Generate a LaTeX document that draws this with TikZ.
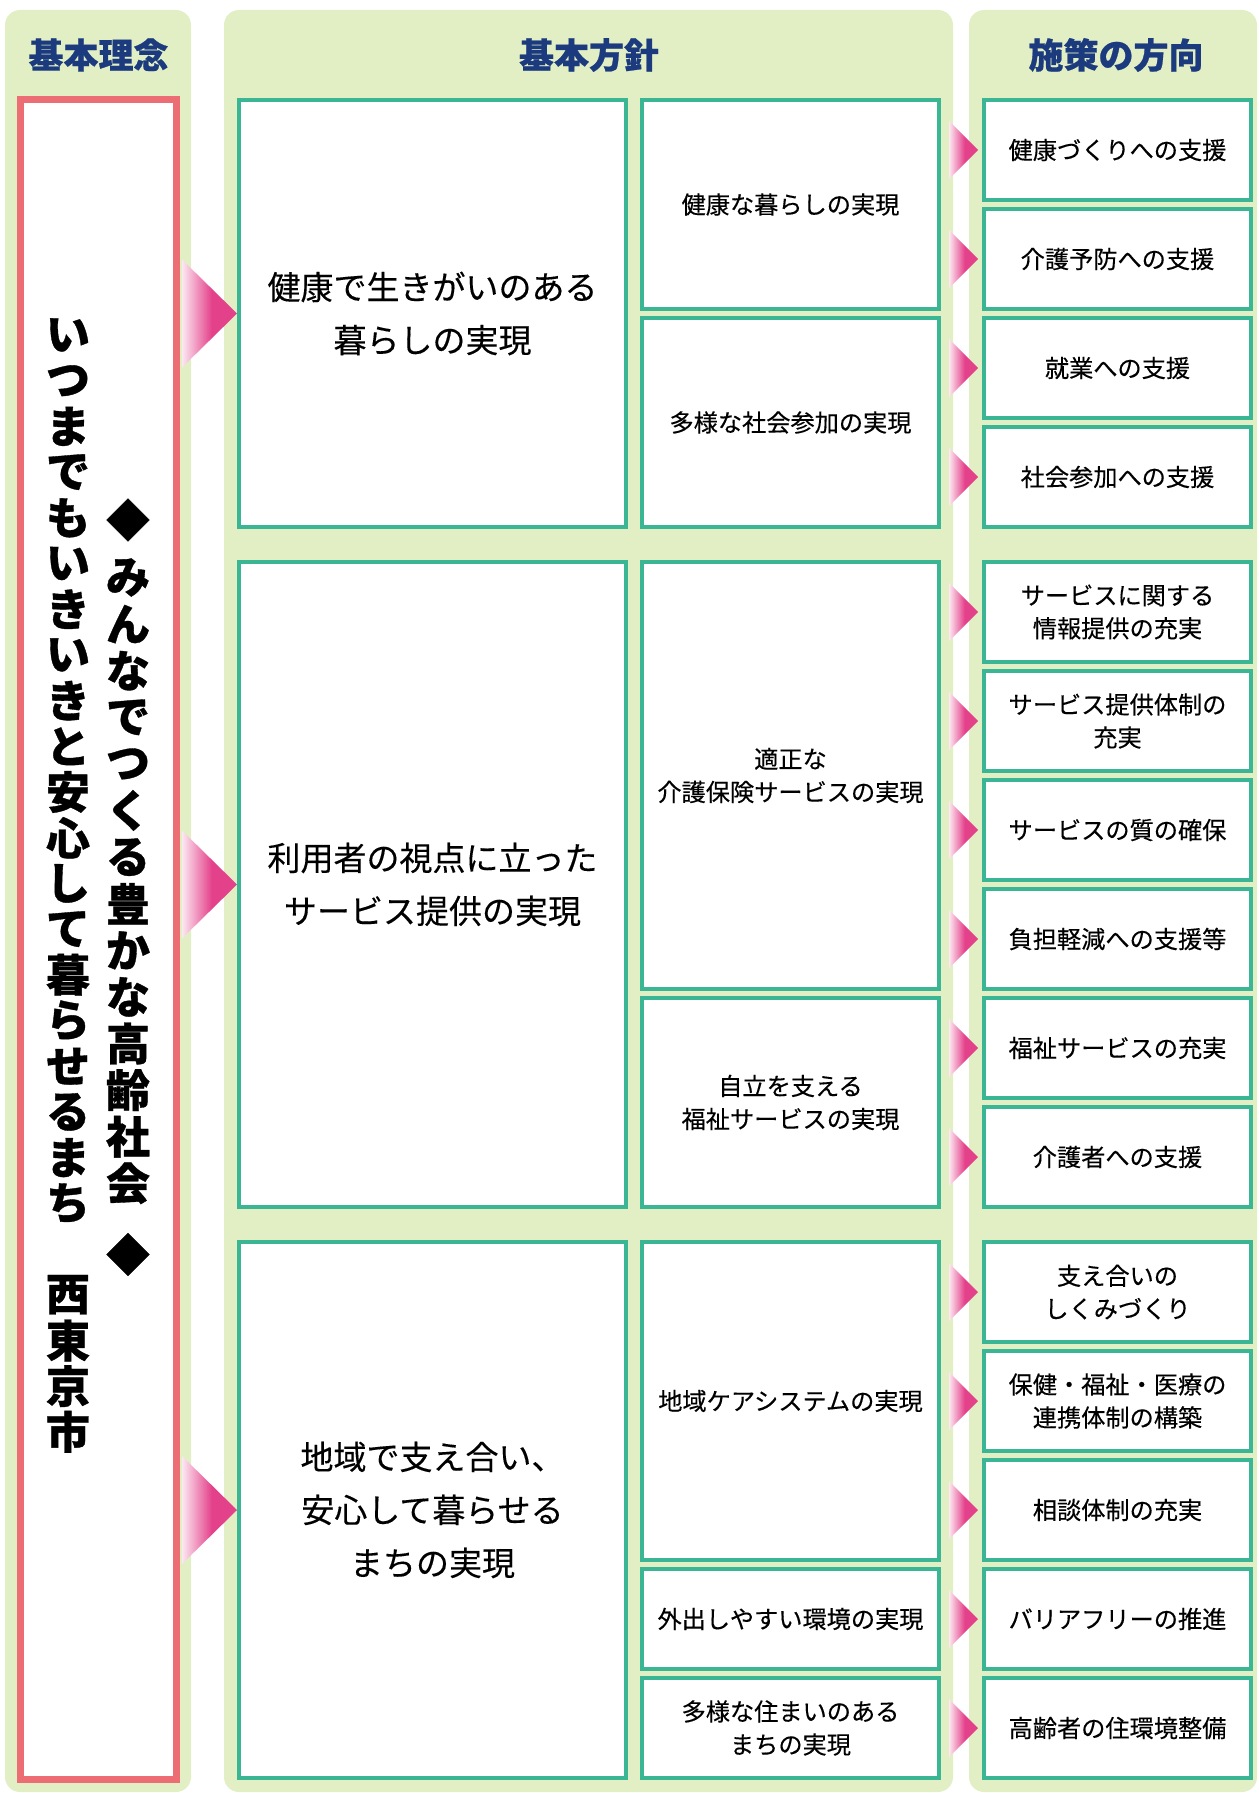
\documentclass[tikz,border=0pt]{standalone}
\usepackage{fontspec}
\newfontfamily\jp{Noto Sans CJK JP}
\newfontfamily\jpm[FakeBold=0.3]{Noto Sans CJK JP}
\usetikzlibrary{calc}
\definecolor{panel}{HTML}{E2EFC5}
\definecolor{gline}{HTML}{3BB694}
\definecolor{rline}{HTML}{EC6E74}
\definecolor{pk}{HTML}{E4418B}
\definecolor{navy}{HTML}{1B3B7E}
\colorlet{pkpale}{pk!12!white}
\pgfdeclarehorizontalshading{arrowshade}{100bp}{color(0bp)=(pkpale); color(25bp)=(pkpale); color(52bp)=(pk); color(100bp)=(pk)}
\newcommand\mkbox[7]{\node[gbox,#6,minimum width={(#4-#2-4)*0.5pt},minimum height={(#5-#3-4)*0.5pt}] (#1) at ({(#2+#4)/2},{(#3+#5)/2}) {#7};}
\newcommand\rbox[3]{\mkbox{#1}{982}{#2}{1253}{#2+104}{smtxt}{#3}}
\newcommand\sarr[1]{\shade[arr] ($(#1.west)+(-4,0)$) -- ($(#1.west)+(-33,-29)$) -- ($(#1.west)+(-33,29)$) -- cycle;}
\newcommand\barr[1]{\shade[arr] (#1.west) -- ($(#1.west)+(-55,-54)$) -- ($(#1.west)+(-55,54)$) -- cycle;}
\begin{document}
\begin{tikzpicture}[x=0.5pt,y=-0.5pt,
  panelbg/.style={fill=panel,rounded corners=7.5pt},
  hdr/.style={font=\jp\bfseries\addfontfeature{FakeBold=0.6}\fontsize{17.5}{20}\selectfont,text=navy,inner sep=0pt},
  gbox/.style={draw=gline,line width=2pt,fill=white,align=center,inner sep=0pt},
  bigtxt/.style={font=\jpm\fontsize{16.5}{26.5}\selectfont},
  smtxt/.style={font=\jpm\fontsize{12.1}{16.5}\selectfont},
  vchar/.style={font=\jp\bfseries\addfontfeature{FakeBold=0.8}\fontsize{22}{22}\selectfont,inner sep=0pt},
  arr/.style={shading=arrowshade}]
\useasboundingbox (0,0) rectangle (1258,1793);
% panels
\fill[panelbg] (5,10) rectangle (191,1792);
\fill[panelbg] (224,10) rectangle (953,1792);
\fill[panelbg] (969,10) rectangle (1257,1792);
% headers
\node[hdr] (h1) at (98.5,55) {基本理念};
\node[hdr] (h2) at (589,55) {基本方針};
\node[hdr] (h3) at (1116,55) {施策の方向};
% theme box
\node[draw=rline,line width=3.65pt,fill=white,minimum width=78pt,minimum height=839.85pt,inner sep=0pt] (theme) at (98.35,939.5) {};
\foreach \c [count=\i from 0] in {い,つ,ま,で,も,い,き,い,き,と,安,心,し,て,暮,ら,せ,る,ま,ち}
  {\node[vchar] (L\i) at (68,{335+\i*45.7}) {\c};}
\foreach \c [count=\i from 21] in {西,東,京,市}
  {\node[vchar] (L\i) at (68,{335+\i*45.7}) {\c};}
\node[vchar] (Rd1) at (128,520) {◆};
\foreach \c [count=\i from 0] in {み,ん,な,で,つ,く,る,豊,か,な,高,齢,社,会}
  {\node[vchar] (R\i) at (128,{577.5+\i*46.6}) {\c};}
\node[vchar] (Rd2) at (128,1254.5) {◆};
% big boxes
\mkbox{b1}{237}{98}{628}{529}{bigtxt}{健康で生きがいのある\\暮らしの実現}
\mkbox{b2}{237}{560}{628}{1209}{bigtxt}{利用者の視点に立った\\サービス提供の実現}
\mkbox{b3}{237}{1240}{628}{1780}{bigtxt}{地域で支え合い、\\安心して暮らせる\\まちの実現}
% middle boxes
\mkbox{m1}{640}{98}{941}{311}{smtxt}{健康な暮らしの実現}
\mkbox{m2}{640}{316}{941}{529}{smtxt}{多様な社会参加の実現}
\mkbox{m3}{640}{560}{941}{991}{smtxt}{適正な\\介護保険サービスの実現}
\mkbox{m4}{640}{996}{941}{1209}{smtxt}{自立を支える\\福祉サービスの実現}
\mkbox{m5}{640}{1240}{941}{1562}{smtxt}{地域ケアシステムの実現}
\mkbox{m6}{640}{1567}{941}{1671}{smtxt}{外出しやすい環境の実現}
\mkbox{m7}{640}{1676}{941}{1780}{smtxt}{多様な住まいのある\\まちの実現}
% right boxes
\rbox{r1}{98}{健康づくりへの支援}
\rbox{r2}{207}{介護予防への支援}
\rbox{r3}{316}{就業への支援}
\rbox{r4}{425}{社会参加への支援}
\rbox{r5}{560}{サービスに関する\\情報提供の充実}
\rbox{r6}{669}{サービス提供体制の\\充実}
\rbox{r7}{778}{サービスの質の確保}
\rbox{r8}{887}{負担軽減への支援等}
\rbox{r9}{996}{福祉サービスの充実}
\rbox{r10}{1105}{介護者への支援}
\rbox{r11}{1240}{支え合いの\\しくみづくり}
\rbox{r12}{1349}{保健・福祉・医療の\\連携体制の構築}
\rbox{r13}{1458}{相談体制の充実}
\rbox{r14}{1567}{バリアフリーの推進}
\rbox{r15}{1676}{高齢者の住環境整備}
% arrows
\barr{b1}\barr{b2}\barr{b3}
\foreach \k in {1,...,15} {\sarr{r\k}}
\end{tikzpicture}
\end{document}
